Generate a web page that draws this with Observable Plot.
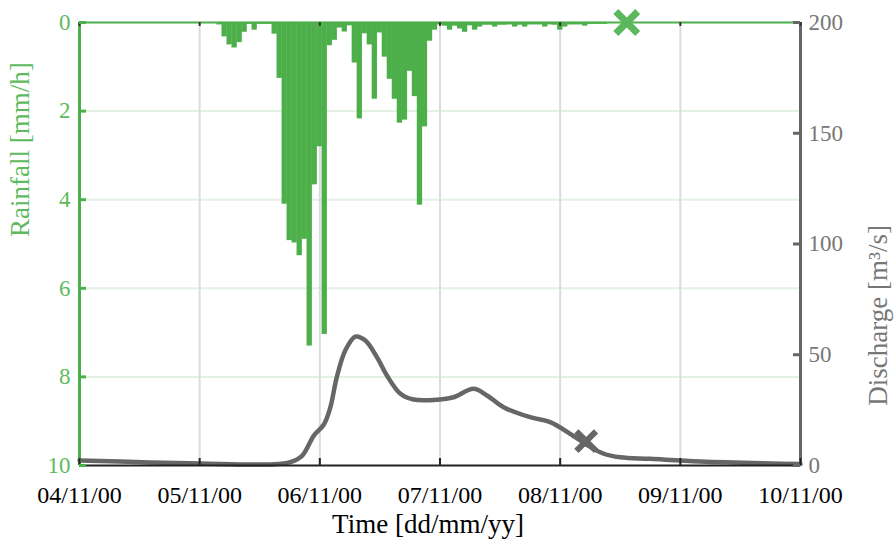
<!DOCTYPE html>
<html><head><meta charset="utf-8">
<script src="https://cdn.jsdelivr.net/npm/d3@7"></script>
<script src="https://cdn.jsdelivr.net/npm/@observablehq/plot@0.6"></script>
<style>
body{margin:0;background:#fff}
#chart svg, #chart svg text, #chart svg g{font-family:"Liberation Serif","Times New Roman","DejaVu Serif",Times,serif !important}
</style>
</head><body><div id="chart"></div>
<script>
// ---- data ----
const startTime = Date.UTC(2000, 10, 4, 0, 0);
const dayTicks = ["2000-11-04","2000-11-05","2000-11-06","2000-11-07","2000-11-08","2000-11-09","2000-11-10"];
const rainFirstHour = 28;
const rainValues = [
  0.05,0.32,0.50,0.57,0.45,0.22,0.04,0.17,0.04,0.04,0.04,0.26,1.26,4.10,4.92,4.97,
  5.26,4.89,7.30,3.66,2.80,7.04,0.52,0.40,0.12,0.21,0.07,0.91,2.17,0.25,0.50,1.73,
  0.23,0.78,1.28,1.73,2.27,2.20,1.10,1.67,4.12,2.35,0.42,0.17,0.05,0.08,0.17,0.08,
  0.14,0.22,0.07,0.17,0.10,0.06,0.06,0.10,0.06,0.06,0.05,0.10,0.06,0.10,0.05,0.05,
  0.05,0.10,0.05,0.06,0.17,0.10,0.05,0.05,0.05,0.08,0.04,0.04,0.04,0.04
];
const flowHours  = [0, 14.2, 24.2, 38.1, 42.1, 44.5, 46.8, 48.8, 50.1, 51.4, 53.1, 55.1, 57.1, 59.4, 61.4, 64.1, 66.7, 71.4, 74.7, 78.7, 81.4, 84.7, 90, 94, 98, 101, 104.7, 108, 114, 124, 144];
const flowValues = [2.3, 1.4, 0.9, 0.5, 1.5, 4.5, 13.5, 18.5, 26.3, 40, 52, 58.2, 56.4, 48.9, 40.6, 32.4, 29.8, 29.7, 30.8, 34.6, 31.6, 26.3, 21.8, 19.6, 14.3, 9.8, 5.3, 3.7, 3.0, 1.8, 0.7];
const rainTicks = [0, 2, 4, 6, 8, 10];
const rainGrid = [2, 4, 6, 8];
const flowTicks = [0, 50, 100, 150, 200];
const rainMarker = [{hour: 109.3, value: 0}];
const flowMarker = [{hour: 101.2, value: 11}];

// ---- helpers ----
const H = 3600e3;
const toTime = h => new Date(startTime + h * H);
const flowToRain = q => 10 - q / 20;   // right axis 0..200 mapped onto left axis 10..0
const days = dayTicks.map(d => new Date(d + "T00:00Z"));

const rain = rainValues.map((v, i) => ({hour: rainFirstHour + i, value: v}));
const flow = flowHours.map((h, i) => ({hour: h, value: flowValues[i]}));

const green = "#4daf4a", greenText = "#5dba5d", gray = "#666666", grayText = "#777777";
const fmt = d3.utcFormat("%d/%m/%y");
const serif = "'Liberation Serif','Times New Roman','DejaVu Serif',serif";

const chart = Plot.plot({
  width: 895, height: 547,
  marginLeft: 79, marginRight: 95, marginTop: 22, marginBottom: 82,
  style: {fontFamily: serif, background: "white"},
  x: {type: "utc", domain: [days[0], days[days.length - 1]]},
  y: {domain: [0, 10], reverse: true},
  marks: [
    Plot.gridY(rainGrid, {stroke: "#e3f1e3", strokeOpacity: 1, strokeWidth: 2}),
    Plot.gridX(days.slice(1, -1), {stroke: "#dcdcdc", strokeOpacity: 1, strokeWidth: 2}),
    Plot.rectY(rain, {x1: d => toTime(d.hour - 0.5), x2: d => toTime(d.hour + 0.5), y: "value", fill: green, stroke: green, strokeWidth: 0.3}),
    Plot.line(flow, {x: d => toTime(d.hour), y: d => flowToRain(d.value), stroke: gray, strokeWidth: 4.5, curve: "catmull-rom"}),
    Plot.ruleY([0], {stroke: green, strokeWidth: 2}),
    Plot.ruleY([10], {stroke: "#222", strokeWidth: 2}),
    Plot.ruleX([days[0]], {stroke: green, strokeWidth: 3}),
    Plot.ruleX([days[days.length - 1]], {stroke: gray, strokeWidth: 3}),
    // inward ticks
    Plot.tickX(days, {x: d => d, insetTop: 436, stroke: "#222", strokeWidth: 2}),
    Plot.tickX(days, {x: d => d, insetBottom: 439, stroke: "#333", strokeWidth: 2}),
    Plot.tickY(rainTicks, {y: d => d, insetRight: 714, stroke: green, strokeWidth: 3}),
    Plot.tickY(flowTicks, {y: d => flowToRain(d), insetLeft: 714, stroke: gray, strokeWidth: 3}),
    // markers
    Plot.dot(rainMarker, {x: d => toTime(d.hour), y: "value", symbol: "times", r: 10, stroke: "#5cb85c", strokeWidth: 7}),
    Plot.dot(flowMarker, {x: d => toTime(d.hour), y: d => flowToRain(d.value), symbol: "times", r: 9, stroke: gray, strokeWidth: 6}),
    // axes
    Plot.axisX({ticks: days, tickSize: 0, tickPadding: 20, tickFormat: fmt, fontSize: 24, fill: "#000", label: null, fontFamily: serif}),
    Plot.axisY({anchor: "left", ticks: rainTicks, tickSize: 0, tickPadding: 9, fontSize: 23, fill: greenText, label: null, fontFamily: serif}),
    Plot.axisY({anchor: "right", ticks: flowTicks.map(flowToRain), tickFormat: d => String(Math.round((10 - d) * 20)), tickSize: 0, tickPadding: 8, fontSize: 23, fill: grayText, label: null, fontFamily: serif}),
    // axis titles
    Plot.text(["Rainfall [mm/h]"], {frameAnchor: "left", dx: -59, dy: -7, rotate: -90, fontSize: 27, fill: greenText, fontFamily: serif}),
    Plot.text(["Discharge [m³/s]"], {frameAnchor: "right", dx: 78, dy: -19, rotate: -90, fontSize: 27, fill: grayText, fontFamily: serif}),
    Plot.text(["Time [dd/mm/yy]"], {frameAnchor: "bottom", dx: -12, dy: 67, fontSize: 27, fill: "#000", fontFamily: serif})
  ]
});
document.getElementById("chart").append(chart);
</script>
</body></html>
